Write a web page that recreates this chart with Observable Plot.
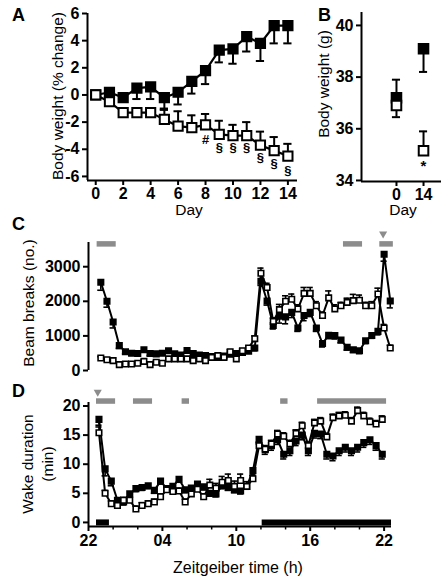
<!DOCTYPE html>
<html><head><meta charset="utf-8">
<script src="https://cdn.jsdelivr.net/npm/d3@7"></script>
<script src="https://cdn.jsdelivr.net/npm/@observablehq/plot@0.6"></script>
<style>
body{margin:0;background:#fff;}
#fig{position:relative;width:445px;height:583px;overflow:hidden;background:#fff;}
#fig svg{position:absolute;}
</style></head><body><div id="fig"></div>
<script>
// ---------- Panel A: body weight (% change) by day ----------
const daysA = [0,1,2,3,4,5,6,7,8,9,10,11,12,13,14];
const filledA = [0,0.2,-0.2,0.5,0.6,-0.2,0.2,1.0,1.8,3.3,3.4,4.3,3.8,5.1,5.1];
const filledSemA = [0,0.2,0.2,0.8,0.9,0.8,0.9,0.9,1.0,0.9,1.1,1.1,1.3,1.3,1.3];
const openA = [0,-0.5,-1.3,-1.3,-1.3,-1.8,-2.3,-2.4,-2.2,-2.9,-3.0,-3.0,-3.7,-4.1,-4.5];
const openSemA = [0,0.2,0.2,0.2,0.3,0.7,1.1,0.9,0.8,1.0,0.8,1.0,1.0,1.0,0.9];
const yTicksA = [-6,-4,-2,0,2,4,6];
const xTicksA = [0,2,4,6,8,10,12,14];
const annotDaysA = [8,9,10,11,12,13,14];
const annotYA = [-3.3,-3.9,-3.9,-3.9,-4.6,-5.1,-5.6];
const annotTextA = ["#","§","§","§","§","§","§"];

// ---------- Panel B: body weight (g) ----------
const daysB = [0,14];
const filledB = [37.2,39.1];
const filledSemB = [0.7,0.9];
const filledDirB = [1,-1];
const openB = [36.9,35.15];
const openSemB = [0.45,0.75];
const openDirB = [-1,1];
const yTicksB = [34,36,38,40];
const starB = {day:14, y:34.55, t:"*"};

// ---------- Panel C: beam breaks, hours after ZT22 ----------
const timeC = [1,1.5,2,2.5,3,3.5,4,4.5,5,5.5,6,6.5,7,7.5,8,8.5,9,9.5,10,10.5,11,11.5,12,12.5,13,13.5,14,14.5,15,15.5,16,16.5,17,17.5,18,18.5,19,19.5,20,20.5,21,21.5,22,22.5,23,23.5,24,24.5];
const filledC = [2550,2000,1400,720,540,500,490,600,490,480,500,570,480,450,580,490,450,430,400,380,420,470,490,520,560,650,2580,2010,1300,1570,1550,1680,1230,1590,1680,1230,780,1020,1010,880,670,600,570,860,1010,1130,3360,2010];
const filledSemC = [230,170,170,80,60,60,60,60,60,60,60,60,60,60,60,60,60,60,60,60,60,60,60,60,60,80,120,120,100,200,200,150,100,150,120,100,100,100,100,80,80,80,80,80,80,100,200,200];
const openC = [360,310,285,170,190,190,210,265,170,240,210,335,335,335,335,285,335,285,380,430,380,540,335,570,650,920,2810,2400,1420,1760,2000,2060,1780,2230,2230,1870,1590,2100,1780,1870,1970,2020,2030,1870,1870,2210,1230,650];
const openSemC = [40,40,40,40,40,40,40,40,40,40,40,40,40,40,40,40,40,40,40,40,40,60,60,60,60,80,150,120,100,150,160,150,120,170,170,120,100,200,120,100,120,180,150,100,120,170,100,80];
const yTicksC = [0,1000,2000,3000];
const grayStartC = [0.7,20.7,23.65];
const grayEndC = [2.25,22.25,24.75];
const markerC = [23.92];

// ---------- Panel D: wake duration, hours after ZT22 ----------
const timeD = [0.85,1.35,1.85,2.35,2.85,3.35,3.85,4.35,4.85,5.35,5.85,6.35,6.85,7.35,7.85,8.35,8.85,9.35,9.85,10.35,10.85,11.35,11.85,12.35,12.85,13.35,13.85,14.35,14.85,15.35,15.85,16.35,16.85,17.35,17.85,18.35,18.85,19.35,19.85,20.35,20.85,21.35,21.85,22.35,22.85,23.35,23.85];
const filledD = [17.7,9.2,7.1,3.8,3.5,4.9,5.8,6.0,6.3,5.5,7.1,5.8,6.2,7.4,5.6,5.9,6.6,6.1,5.0,4.9,6.3,6.0,5.6,5.4,6.2,8.9,14.3,12.5,13.2,14.2,11.7,12.3,14.0,15.0,12.3,15.3,15.2,11.7,11.4,12.3,12.9,12.3,12.9,13.7,14.2,13.2,11.7];
const filledSemD = [1.0,1.2,0.8,0.5,0.5,0.5,0.5,0.5,0.5,0.5,0.5,0.5,0.5,0.5,0.5,0.5,0.5,0.5,0.5,0.5,0.5,0.5,0.5,0.5,0.5,0.8,0.8,0.8,0.8,0.8,0.8,0.8,0.8,0.8,0.8,0.8,0.8,0.8,0.8,0.8,0.8,0.8,0.8,0.8,0.8,0.8,0.8];
const openD = [15.4,5.0,3.2,2.9,3.8,3.8,2.3,2.9,3.2,3.5,4.4,5.6,5.3,5.4,3.5,4.9,5.7,4.4,6.4,5.9,6.9,7.2,6.2,7.2,6.2,7.5,13.2,12.6,13.5,15.2,14.8,13.5,15.3,16.6,13.2,17.1,17.4,14.7,18.0,18.3,18.4,17.4,19.2,18.3,17.3,16.9,17.7];
const openSemD = [1.0,0.5,0.5,0.5,0.5,0.5,0.5,0.5,0.5,0.5,0.5,0.5,0.5,0.5,0.5,0.5,0.5,0.5,1.0,0.8,1.0,1.1,0.9,1.1,0.8,0.6,0.6,0.6,0.6,0.6,0.6,0.6,0.6,0.6,0.6,0.6,0.6,0.6,0.6,0.6,0.6,0.6,0.6,0.6,0.6,0.6,0.6];
const yTicksD = [0,5,10,15,20];
const xTicksD = [0,6,12,18,24];
const xTickLabelsD = ["22","04","10","16","22"];
const xMinorTicksD = [2,4,8,10,14,16,20,22];
const grayStartD = [0.65,3.65,7.6,15.6,18.6];
const grayEndD = [2.2,5.2,8.2,16.2,24.2];
const blackStartD = [0.65,14.1];
const blackEndD = [1.7,24.6];
const markerD = [0.75];

// ---------- helpers ----------
const FONT = '"Liberation Sans", Arial, Helvetica, sans-serif';
const GRAY = "#8c8c8c";
const fig = document.getElementById("fig");
const baseStyle = {fontFamily: FONT, fontSize: "16px", fontWeight: "bold", color: "#000", background: "transparent", overflow: "visible"};
const fmt = d => String(d);

function rows(xs, ys) { return xs.map((x, i) => ({x, y: ys[i]})); }
function errRows(xs, ys, sems, dirs) {
  return xs.map((x, i) => ({x, y: ys[i], e: ys[i] + (Array.isArray(dirs) ? dirs[i] : dirs) * sems[i], s: sems[i]}))
           .filter(d => d.s > 0);
}
function seriesMarks(xs, fY, fSem, fDir, oY, oSem, oDir, o) {
  const fE = errRows(xs, fY, fSem, fDir), oE = errRows(xs, oY, oSem, oDir);
  const fR = rows(xs, fY), oR = rows(xs, oY);
  const cap = o.cap;
  return [
    Plot.ruleX(fE, {x: "x", y1: "y", y2: "e", strokeWidth: o.ew}),
    Plot.ruleY(fE, {y: "e", x1: d => d.x - cap, x2: d => d.x + cap, strokeWidth: o.ew}),
    Plot.ruleX(oE, {x: "x", y1: "y", y2: "e", strokeWidth: o.ew}),
    Plot.ruleY(oE, {y: "e", x1: d => d.x - cap, x2: d => d.x + cap, strokeWidth: o.ew}),
    Plot.line(fR, {x: "x", y: "y", stroke: "black", strokeWidth: o.lw}),
    Plot.line(oR, {x: "x", y: "y", stroke: "black", strokeWidth: o.lw}),
    Plot.dot(fR, {x: "x", y: "y", symbol: "square", r: o.r, fill: "black", stroke: "black", strokeWidth: o.sw}),
    Plot.dot(oR, {x: "x", y: "y", symbol: "square", r: o.r, fill: "white", stroke: "black", strokeWidth: o.sw})
  ];
}
function place(svg, left, top) {
  svg.style.left = left + "px";
  svg.style.top = top + "px";
  fig.appendChild(svg);
}

// ---------- Panel A ----------
const xDomA = [-0.6, 14.7], yDomA = [-6.3, 6];
const plotA = Plot.plot({
  width: 300, height: 215, marginLeft: 87, marginRight: 3, marginTop: 13, marginBottom: 35,
  style: baseStyle,
  x: {domain: xDomA}, y: {domain: yDomA},
  marks: [
    Plot.ruleX([xDomA[0]], {strokeWidth: 2}),
    Plot.ruleY([yDomA[0]], {strokeWidth: 2}),
    Plot.axisY({ticks: yTicksA, tickFormat: fmt, tickSize: 5, tickPadding: 3, strokeWidth: 2, label: null}),
    Plot.axisX({ticks: xTicksA, tickFormat: fmt, tickSize: 5, tickPadding: 2, strokeWidth: 2, label: null}),
    ...seriesMarks(daysA, filledA, filledSemA, -1, openA, openSemA, 1, {cap: 0.3, ew: 2, lw: 2.2, r: 5.2, sw: 2}),
    Plot.text(annotDaysA, {x: d => d, y: (d, i) => annotYA[i], text: (d, i) => annotTextA[i], fontSize: 13, fontWeight: "bold"})
  ]
});
place(plotA, 0, 0);

// ---------- Panel B ----------
const xDomB = [-18.1, 23.3], yDomB = [33.96, 40.5];
const plotB = Plot.plot({
  width: 155, height: 215, marginLeft: 71, marginRight: 4, marginTop: 12, marginBottom: 34,
  style: baseStyle,
  x: {domain: xDomB}, y: {domain: yDomB},
  marks: [
    Plot.ruleX([xDomB[0]], {strokeWidth: 2}),
    Plot.ruleY([yDomB[0]], {strokeWidth: 2}),
    Plot.axisY({ticks: yTicksB, tickFormat: fmt, tickSize: 5, tickPadding: 3, strokeWidth: 2, label: null}),
    Plot.axisX({ticks: daysB, tickFormat: fmt, tickSize: 5, tickPadding: 2, strokeWidth: 2, label: null}),
    ...seriesMarks(daysB, filledB, filledSemB, filledDirB, openB, openSemB, openDirB, {cap: 2.1, ew: 2, lw: 0, r: 5.4, sw: 2}),
    Plot.text([starB], {x: "day", y: "y", text: "t", fontSize: 15, fontWeight: "bold"})
  ]
});
place(plotB, 290, 0);

// ---------- Panel C ----------
const xDomCD = [0, 24.6], yDomC = [0, 3700];
const plotC = Plot.plot({
  width: 445, height: 160, marginLeft: 88, marginRight: 54, marginTop: 27, marginBottom: 5,
  style: baseStyle,
  x: {domain: xDomCD, axis: null}, y: {domain: yDomC},
  marks: [
    Plot.ruleX([xDomCD[0]], {strokeWidth: 2}),
    Plot.axisY({ticks: yTicksC, tickFormat: fmt, tickSize: 5, tickPadding: 3, strokeWidth: 2, label: null}),
    Plot.ruleY(grayStartC, {y: () => 3660, x1: d => d, x2: (d, i) => grayEndC[i], stroke: GRAY, strokeWidth: 5.5}),
    Plot.dot(markerC, {x: d => d, y: () => 3950, symbol: "triangle", r: 3, fill: GRAY, rotate: 180}),
    ...seriesMarks(timeC, filledC, filledSemC, -1, openC, openSemC, 1, {cap: 0.25, ew: 1.6, lw: 2, r: 3.1, sw: 1.6})
  ]
});
place(plotC, 0, 215);

// ---------- Panel D ----------
const yDomD = [-0.7, 20.6];
const plotD = Plot.plot({
  width: 445, height: 208, marginLeft: 88, marginRight: 54, marginTop: 27, marginBottom: 57,
  style: baseStyle,
  x: {domain: xDomCD}, y: {domain: yDomD},
  marks: [
    Plot.ruleX([xDomCD[0]], {strokeWidth: 2}),
    Plot.ruleY([yDomD[0]], {strokeWidth: 2}),
    Plot.axisY({ticks: yTicksD, tickFormat: fmt, tickSize: 5, tickPadding: 3, strokeWidth: 2, label: null}),
    Plot.axisX({ticks: xTicksD, tickFormat: (d, i) => xTickLabelsD[xTicksD.indexOf(d)], tickSize: 5, tickPadding: 3, strokeWidth: 2, label: null}),
    Plot.axisX({ticks: xMinorTicksD, tickFormat: () => "", tickSize: 3.5, strokeWidth: 1.5, label: null}),
    Plot.ruleY(grayStartD, {y: () => 20.85, x1: d => d, x2: (d, i) => grayEndD[i], stroke: GRAY, strokeWidth: 5.5}),
    Plot.ruleY(blackStartD, {y: () => 0, x1: d => d, x2: (d, i) => blackEndD[i], stroke: "black", strokeWidth: 6}),
    Plot.dot(markerD, {x: d => d, y: () => 22.4, symbol: "triangle", r: 3, fill: GRAY, rotate: 180}),
    ...seriesMarks(timeD, filledD, filledSemD, -1, openD, openSemD, 1, {cap: 0.25, ew: 1.6, lw: 2, r: 3.1, sw: 1.6})
  ]
});
place(plotD, 0, 375);

// ---------- Titles and panel letters (text overlay) ----------
const ov = d3.select(fig).append("svg")
  .attr("width", 445).attr("height", 583)
  .style("left", "0px").style("top", "0px").style("pointer-events", "none")
  .style("font-family", FONT);
const letters = [["A", 12, 21], ["B", 318, 21], ["C", 12, 230], ["D", 12, 397]];
letters.forEach(([t, x, y]) => ov.append("text").attr("x", x).attr("y", y)
  .attr("font-size", 18).attr("font-weight", "bold").text(t));
const titles = [
  ["Body weight (% change)", 57, 96, -90, 15.5],
  ["Day", 189, 209, 0, 15.5],
  ["Body weight (g)", 323, 84, -90, 15.5],
  ["Day", 403, 209, 0, 15.5],
  ["Beam breaks (no.)", 28, 303, -90, 15.5],
  ["Wake duration", 27, 464, -90, 15.5],
  ["(min)", 47, 464, -90, 15.5],
  ["Zeitgeiber time (h)", 238, 567, 0, 16]
];
titles.forEach(([t, x, y, rot, fs]) => ov.append("text")
  .attr("transform", `translate(${x},${y}) rotate(${rot})`)
  .attr("text-anchor", "middle").attr("dominant-baseline", "central")
  .attr("font-size", fs).text(t));
</script></body></html>
